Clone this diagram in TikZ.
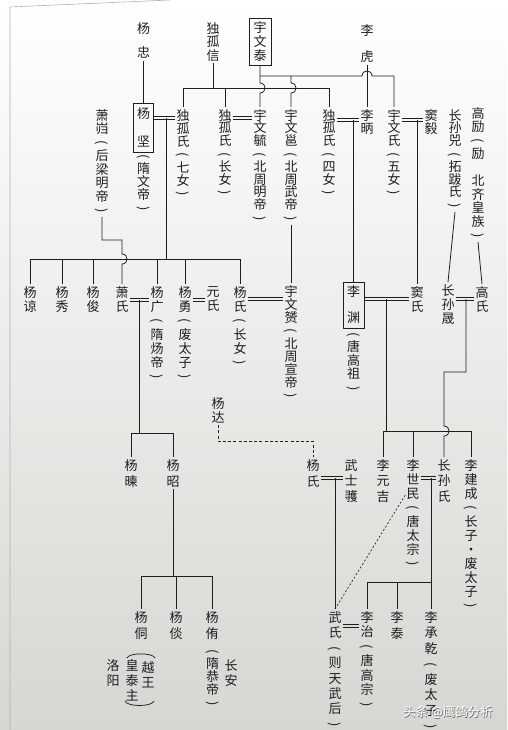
\documentclass[tikz,border=0pt]{standalone}
\usepackage{fontspec}
\usepackage{graphicx}
\newfontfamily\cjk{Noto Sans CJK SC}
\definecolor{ink}{HTML}{1E1E1E}
\newcommand\vlp{\makebox[0pt]{\rotatebox[origin=c]{-90}{(}}}
\newcommand\vrp{\makebox[0pt]{\rotatebox[origin=c]{-90}{)}}}
\begin{document}
\begin{tikzpicture}[x=1pt,y=-1pt,
 vt/.style={font=\cjk\fontsize{13}{#1}\selectfont, align=center, inner xsep=1pt, inner ysep=2pt, anchor=north, text=ink},
 vt/.default=14,
 bx/.style={draw=ink, line width=.8pt, align=center, text=ink, inner sep=0pt},
 ln/.style={draw=ink, line width=.8pt},
 mar/.style={postaction={draw=ink, line width=.75pt, transform canvas={yshift=1.35pt}}, postaction={draw=ink, line width=.75pt, transform canvas={yshift=-1.35pt}}},
 dsh/.style={ln, dash pattern=on 3pt off 2.2pt},
 dgl/.style={ln, line width=.65pt, dash pattern=on 2pt off 2pt},
 wmk/.style={font=\cjk\fontsize{12.5}{12.5}\selectfont}
]
\useasboundingbox (0,0) rectangle (507,730);
\shade[top color=white, bottom color={rgb,255:red,214;green,214;blue,210}] (0,0) rectangle (507,730);
\draw[black!30, line width=.6pt] (10,730) -- (10,7) -- (170,0);

% level coordinates
\coordinate (h76) at (0,76);
\coordinate (h88) at (0,88);
\coordinate (h118) at (0,118);
\coordinate (h120) at (0,120);
\coordinate (h299) at (0,299);
\coordinate (h300) at (0,300);
\coordinate (h441) at (0,441);
\coordinate (h478) at (0,478);
\coordinate (h495) at (0,495);
\coordinate (h576) at (0,576);
\coordinate (h626) at (0,626);

% ---- generation 1
\node[vt=24.5] (yz) at (143.5,20) {杨\\忠};
\node[vt=13.5] (dxx) at (213,20) {独\\孤\\信};
\node[bx, minimum width=22pt, minimum height=47pt, font=\cjk\fontsize{13}{14}\selectfont] (ywt) at (260,41.5) {宇\\文\\泰};
\node[vt=26.5] (lh) at (367,22) {李\\虎};

% ---- generation 2
\node[bx, minimum width=20pt, minimum height=49pt, font=\cjk\fontsize{13}{28}\selectfont] (yj) at (143.5,127.5) {杨\\坚};
\node[vt=13] (yjt) at (143.5,152) {\vlp\\隋\\文\\帝\\\vrp};
\node[vt=13.5] (xk) at (102,107) {萧\\岿\\\vlp\\后\\梁\\明\\帝\\\vrp};
\node[vt=13] (dg7) at (183,107) {独\\孤\\氏\\\vlp\\七\\女\\\vrp};
\node[vt=12.8] (dgc) at (225,107) {独\\孤\\氏\\\vlp\\长\\女\\\vrp};
\node[vt=12.8] (ywy) at (260,107) {宇\\文\\毓\\\vlp\\北\\周\\明\\帝\\\vrp};
\node[vt=12.8] (ywyong) at (291,107) {宇\\文\\邕\\\vlp\\北\\周\\武\\帝\\\vrp};
\node[vt=12.8] (dg4) at (329,107) {独\\孤\\氏\\\vlp\\四\\女\\\vrp};
\node[vt=13.5] (lb) at (367,107) {李\\昞};
\node[vt=12.8] (ywsh) at (394,107) {宇\\文\\氏\\\vlp\\五\\女\\\vrp};
\node[vt=13.5] (dy) at (431,107) {窦\\毅};
\node[vt=12.8] (csx) at (455,107) {长\\孙\\兕\\\vlp\\拓\\跋\\氏\\\vrp};
\node[vt=13.5] (hl) at (478,105) {高\\励\\\vlp\\励\\[13.5pt]北\\齐\\皇\\族\\\vrp};

% ---- generation 3
\node[vt] (yl) at (30,284) {杨\\谅};
\node[vt] (yx) at (62,284) {杨\\秀};
\node[vt] (yjun) at (93,284) {杨\\俊};
\node[vt] (xs) at (122,284) {萧\\氏};
\node[vt] (yg) at (157,284) {杨\\广\\\vlp\\隋\\炀\\帝\\\vrp};
\node[vt] (yy) at (185,284) {杨\\勇\\\vlp\\废\\太\\子\\\vrp};
\node[vt] (ys) at (213,284) {元\\氏};
\node[vt] (yss) at (240,284) {杨\\氏\\\vlp\\长\\女\\\vrp};
\node[vt=13] (ywyun) at (291,283) {宇\\文\\赟\\\vlp\\北\\周\\宣\\帝\\\vrp};
\node[bx, minimum width=21pt, minimum height=46pt, font=\cjk\fontsize{13}{26}\selectfont] (ly) at (353.5,305) {李\\渊};
\node[vt=13.5] (lyt) at (353.5,330) {\vlp\\唐\\高\\祖\\\vrp};
\node[vt] (ds) at (417,284) {窦\\氏};
\node[vt] (css) at (448,282) {长\\孙\\晟};
\node[vt] (gs) at (482,284) {高\\氏};

% ---- generation 4
\node[vt] (yd) at (218,395) {杨\\达};
\node[vt=16] (ych) at (131,457) {杨\\暕};
\node[vt=16] (yzh) at (173,457) {杨\\昭};
\node[vt=16] (ysh) at (313,457) {杨\\氏};
\node[vt=15.5] (wsh) at (351,457) {武\\士\\彟};
\node[vt=15.5] (lyj) at (383,457) {李\\元\\吉};
\node[vt] (lsm) at (413,457) {李\\世\\民\\\vlp\\唐\\太\\宗\\\vrp};
\node[vt=15.5] (csh) at (444,457) {长\\孙\\氏};
\node[vt] (ljc) at (471,457) {李\\建\\成\\\vlp\\长\\子\\·\\废\\太\\子\\\vrp};

% ---- generation 5
\node[vt=16] (yt) at (141,609) {杨\\侗};
\node[vt=16] (ytan) at (176,609) {杨\\倓};
\node[vt=16] (yyou) at (212,609) {杨\\侑};
\node[vt=15] (yw) at (148,659) {越\\王};
\node[vt=15] (hts) at (132,657) {皇\\泰\\主};
\node[vt=15] (lyg) at (113,657) {洛\\阳};
\node[vt=13] (yyt) at (212.5,647) {\vlp\\隋\\恭\\帝\\\vrp};
\node[vt=15] (ca) at (231,657) {长\\安};
\node[vt=15.3] (wz) at (335,609) {武\\氏\\\vlp\\则\\天\\武\\后\\\vrp};
\node[vt=14.5] (lz) at (367,609) {李\\治\\\vlp\\唐\\高\\宗\\\vrp};
\node[vt=16] (lt) at (397,609) {李\\泰};
\node[vt=15.5] (lcq) at (431,609) {李\\承\\乾\\\vlp\\废\\太\\子\\\vrp};

% ---- connectors, top
\draw[ln] (yz.south) -- (yj.north);
\draw[ln] (dxx.south) -- (dxx.south |- h88);
\draw[ln] (dg7.north) |- (dg4.north |- h88) -- (dg4.north);
\draw[ln] (dgc.north) -- (dgc.north |- h88);
\draw[ln] (ywt.south) -- (260,83) .. controls (266.7,83) and (266.7,93) .. (260,93) -- (ywy.north);
\draw[ln] (ywt.south |- h76) -- (362,76) .. controls (362,69.3) and (372,69.3) .. (372,76) -- (ywsh.north |- h76) -- (ywsh.north);
\draw[ln] (ywyong.north |- h76) -- (291,83) .. controls (297.7,83) and (297.7,93) .. (291,93) -- (ywyong.north);
\draw[ln] (lh.south) -- (lb.north);

\path[mar] (yj.east |- h118) -- (dg7.west |- h118);
\path[mar] (dgc.east |- h118) -- (ywy.west |- h118);
\path[mar] (dg4.east |- h120) -- (lb.west |- h120);
\path[mar] (ywsh.east |- h120) -- (dy.west |- h120);

% ---- Yang family
\coordinate (m1) at (166,118);
\coordinate (b1) at (166,259);
\draw[ln] (m1) -- (b1);
\draw[ln] (yl.north) |- (yss.north |- b1) -- (yss.north);
\foreach \n in {yx,yjun,yg,yy} \draw[ln] (\n.north) -- (\n.north |- b1);
\draw[ln] (xk.south) |- (122,240) -- (122,254) .. controls (128.7,254) and (128.7,264) .. (122,264) -- (xs.north);

\path[mar] (xs.east |- h300) -- (yg.west |- h300);
\path[mar] (yy.east |- h300) -- (ys.west |- h300);
\path[mar] (yss.east |- h299) -- (ywyun.west |- h299);
\coordinate (m5) at (139.5,300);
\coordinate (b5) at (139.5,433);
\draw[ln] (m5) -- (b5);
\draw[ln] (ych.north) |- (yzh.north |- b5) -- (yzh.north);
\draw[ln] (ywyong.south) -- (ywyun.north);

\draw[ln] (yzh.south) -- (yzh.south |- h576);
\draw[ln] (yt.north) |- (yyou.north |- h576) -- (yyou.north);
\draw[ln] (ytan.north) -- (ytan.north |- h576);
\draw[ln, line width=.75pt] (127,658) .. controls (129,652.5) and (153,652.5) .. (155,658);
\draw[ln, line width=.75pt] (125,701) .. controls (127,707) and (152,707) .. (154,701);

% ---- Li family
\draw[ln] (ly.north |- h120) -- (ly.north);
\draw[ln] (ds.north |- h120) -- (ds.north);
\draw[ln] (csx.south) -- (css.north);
\draw[ln] (hl.south) -- (gs.north);
\path[mar] (ly.east |- h299) -- (ds.west |- h299);
\path[mar] (css.east |- h299) -- (gs.west |- h299);
\coordinate (m8) at (386,299);
\coordinate (b8) at (386,431);
\draw[ln] (m8) -- (b8);
\draw[ln] (lyj.north) |- (ljc.north |- b8) -- (ljc.north);
\draw[ln] (lsm.north) -- (lsm.north |- b8);
\coordinate (m9) at (466,299);
\draw[ln] (m9) |- (444,372) -- (444,426) .. controls (450.7,426) and (450.7,436) .. (444,436) -- (csh.north);

\draw[dsh] (yd.south) |- (ysh.north |- h441) -- (ysh.north);
\path[mar] (ysh.east |- h478) -- (wsh.west |- h478);
\draw[ln] (wz.north |- h478) -- (wz.north);
\path[mar] (lsm.east |- h478) -- (csh.west |- h478);
\draw[ln] (lcq.north |- h478) -- (lcq.north);
\coordinate (b11) at (431,582);
\draw[ln] (lz.north) |- (b11);
\draw[ln] (lt.north) -- (lt.north |- b11);
\draw[dgl] (lsm.west |- h495) -- (wz.north);
\path[mar] (wz.east |- h626) -- (lz.west |- h626);

% ---- watermark
\node[wmk, text=black!60] (wms) at (448.8,712.8) {头条 @鹰鸽分析};
\node[wmk, text=white] (wm) at (448,712) {头条 @鹰鸽分析};
\end{tikzpicture}
\end{document}
